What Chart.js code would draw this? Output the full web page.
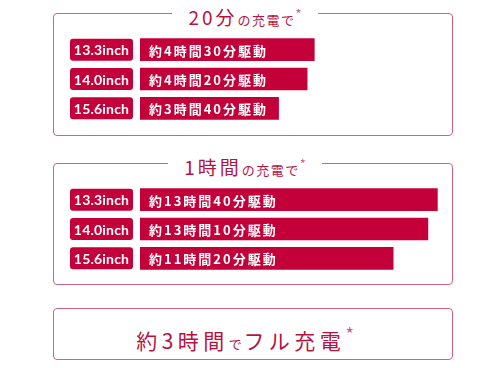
<!DOCTYPE html>
<html>
<head>
<meta charset="utf-8">
<script src="https://cdn.jsdelivr.net/npm/chart.js@4"></script>
<style>
  body { margin: 0; width: 490px; height: 368px; background: #fff; position: relative; overflow: hidden;
         font-family: "Noto Sans CJK JP", sans-serif; color: #b8123f; }
  .box { position: absolute; left: 53px; width: 398px; border: 1.5px solid #d2637f; border-radius: 4px; }
  .title { position: absolute; left: 0; width: 490px; text-align: center; line-height: 24px; height: 24px; }
  .title span.bg { background: #fff; padding: 0 16px; }
  .big { font-size: 19px; letter-spacing: 3px; }
  .small { font-size: 13px; letter-spacing: 1.5px; }
  .star { font-size: 13px; vertical-align: 6px; color: #d2637f; }
  canvas { position: absolute; left: 0; }
  .full { position: absolute; left: 0; width: 490px; top: 318px; text-align: center; line-height: 30px; }
  .full .big { font-size: 21px; letter-spacing: 4.5px; }
</style>
</head>
<body>
<div class="box" style="top:13px;height:121px"></div>
<div class="box" style="top:163px;height:120px"></div>
<div class="box" style="top:308px;height:50px"></div>

<div class="title" style="top:2px"><span class="bg"><span class="big">20分</span><span class="small">の充電で</span><span class="star">*</span></span></div>
<div class="title" style="top:152px"><span class="bg"><span class="big">1時間</span><span class="small">の充電で</span><span class="star">*</span></span></div>
<div class="full"><span class="big">約3時間</span><span class="small">で</span><span class="big">フル充電</span><span class="star" style="font-size:18px;vertical-align:8px">*</span></div>

<canvas id="c1" width="490" height="88" style="top:35px"></canvas>
<canvas id="c2" width="490" height="88" style="top:185px"></canvas>

<script>
const sizes = ["13.3inch", "14.0inch", "15.6inch"];

// 20分の充電で — 駆動時間 (分)
const minutes20 = [270, 260, 220];
const labels20 = ["約4時間30分駆動", "約4時間20分駆動", "約3時間40分駆動"];

// 1時間の充電で — 駆動時間 (分)
const minutes60 = [820, 790, 680];
const labels60 = ["約13時間40分駆動", "約13時間10分駆動", "約11時間20分駆動"];

const RED = "#c4003a";

const labelPlugin = {
    id: "labels",
    afterDatasetsDraw(chart) {
        const ctx = chart.ctx;
        const meta = chart.getDatasetMeta(0);
        const texts = chart.options.plugins.labels.texts;
        meta.data.forEach((bar, i) => {
            const y = bar.y;
            ctx.save();
            // size badge
            ctx.fillStyle = RED;
            ctx.beginPath();
            ctx.roundRect(70, y - 11, 63, 22, 3);
            ctx.fill();
            ctx.fillStyle = "#fff";
            ctx.font = "bold 14px Lato, sans-serif";
            ctx.textAlign = "center";
            ctx.textBaseline = "middle";
            ctx.letterSpacing = "0.2px";
            ctx.fillText(chart.data.labels[i], 101.5, y + 1);
            // duration text
            ctx.textAlign = "left";
            ctx.font = "bold 13px 'Noto Sans CJK JP', sans-serif";
            ctx.letterSpacing = "2px";
            ctx.fillText(texts[i], 149, y + 1);
            ctx.restore();
        });
    }
};

function makeChart(id, values, texts, min, max) {
    return new Chart(document.getElementById(id), {
        type: "bar",
        data: {
            labels: sizes,
            datasets: [{
                data: values,
                base: min,
                backgroundColor: RED,
                barThickness: 22,
                borderWidth: 0
            }]
        },
        options: {
            indexAxis: "y",
            responsive: false,
            animation: false,
            layout: { padding: { left: 140, right: 40, top: 0, bottom: 0 } },
            scales: {
                x: { display: false, min: min, max: max },
                y: { display: false }
            },
            plugins: {
                legend: { display: false },
                tooltip: { enabled: false },
                labels: { texts: texts }
            }
        },
        plugins: [labelPlugin]
    });
}

makeChart("c1", minutes20, labels20, 26, 460);
makeChart("c2", minutes60, labels60, -122, 860);
</script>
</body>
</html>
